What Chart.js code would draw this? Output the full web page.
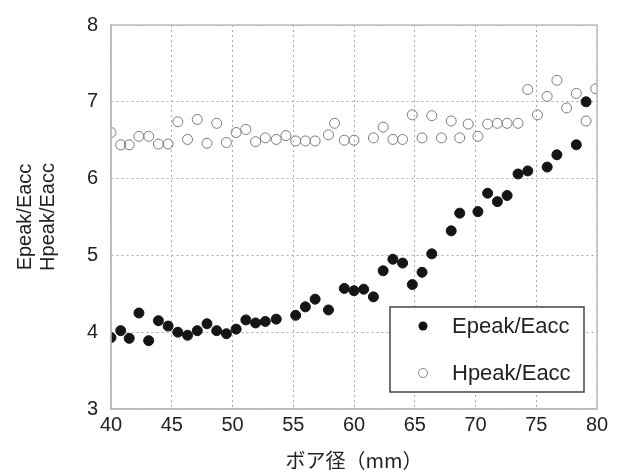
<!DOCTYPE html>
<html>
<head>
<meta charset="utf-8">
<script src="https://cdn.jsdelivr.net/npm/chart.js@4.4.0/dist/chart.umd.min.js"></script>
<style>
html,body{margin:0;padding:0;background:#fff;}
#wrap{width:621px;height:472px;}
</style>
</head>
<body>
<div id="wrap"><canvas id="c" width="621" height="472"></canvas></div>
<script>
// ---- data ----
const hpeakX = [40.0,40.8,41.5,42.3,43.1,43.9,44.7,45.5,46.3,47.1,47.9,48.7,49.5,50.3,51.1,51.9,52.7,53.6,54.4,55.2,56.0,56.8,57.9,58.4,59.2,60.0,61.6,62.4,63.2,64.0,64.8,65.6,66.4,67.2,68.0,68.7,69.4,70.2,71.0,71.8,72.6,73.5,74.3,75.1,75.9,76.7,77.5,78.3,79.1,79.9];
const hpeakY = [6.60,6.44,6.44,6.55,6.55,6.45,6.45,6.74,6.51,6.77,6.46,6.72,6.47,6.60,6.64,6.48,6.53,6.51,6.56,6.49,6.49,6.49,6.57,6.72,6.50,6.50,6.53,6.67,6.51,6.51,6.83,6.53,6.82,6.53,6.75,6.53,6.71,6.55,6.71,6.72,6.72,6.72,7.16,6.83,7.07,7.28,6.92,7.11,6.75,7.17];
const epeakX = [40.0,40.8,41.5,42.3,43.1,43.9,44.7,45.5,46.3,47.1,47.9,48.7,49.5,50.3,51.1,51.9,52.7,53.6,55.2,56.0,56.8,57.9,59.2,60.0,60.8,61.6,62.4,63.2,64.0,64.8,65.6,66.4,68.0,68.7,70.2,71.0,71.8,72.6,73.5,74.3,75.9,76.7,78.3,79.1];
const epeakY = [3.93,4.02,3.92,4.25,3.89,4.15,4.08,4.00,3.96,4.02,4.11,4.02,3.98,4.04,4.16,4.12,4.14,4.17,4.22,4.33,4.43,4.29,4.57,4.54,4.56,4.46,4.80,4.95,4.90,4.62,4.78,5.02,5.32,5.55,5.57,5.81,5.70,5.78,6.06,6.10,6.15,6.31,6.44,7.00];
const seriesNames = ['Epeak/Eacc','Hpeak/Eacc'];
const xTitle = 'ボア径（mm）';
const yTitle = ['Epeak/Eacc','Hpeak/Eacc'];
const xRange = [40, 80];
const yRange = [3, 8];

function pts(xs, ys){ return xs.map((x,i)=>({x:x, y:ys[i]})); }

const frame = {
  id:'frame',
  afterDatasetsDraw(chart){
    const {ctx, chartArea:a} = chart;
    ctx.save();
    ctx.strokeStyle = '#bbbbbb';
    ctx.lineWidth = 1.5;
    ctx.strokeRect(a.left, a.top, a.right-a.left, a.bottom-a.top);
    ctx.restore();
  }
};

const boxLegend = {
  id:'boxLegend',
  afterDraw(chart){
    const {ctx, chartArea:a} = chart;
    const x0 = a.right - 207, x1 = a.right - 13;
    const y0 = a.bottom - 102, y1 = a.bottom - 17;
    ctx.save();
    ctx.fillStyle = '#fff';
    ctx.fillRect(x0, y0, x1-x0, y1-y0);
    ctx.strokeStyle = '#444';
    ctx.lineWidth = 1.5;
    ctx.strokeRect(x0, y0, x1-x0, y1-y0);
    const rows = [y0+19, y0+66];
    chart.data.datasets.forEach((ds, i) => {
      const cy = rows[i];
      ctx.beginPath();
      ctx.arc(x0+33, cy, 4.5, 0, Math.PI*2);
      if (i === 0) { ctx.fillStyle = '#111'; ctx.fill(); }
      else { ctx.strokeStyle = '#888'; ctx.lineWidth = 1; ctx.stroke(); }
      ctx.fillStyle = '#222';
      ctx.font = '22px "Liberation Sans", Arial, sans-serif';
      ctx.textBaseline = 'middle';
      ctx.textAlign = 'left';
      ctx.fillText(ds.label, x0+62, cy+1);
    });
    ctx.restore();
  }
};

new Chart(document.getElementById('c'), {
  type:'scatter',
  data:{
    datasets:[
      {label:seriesNames[0], data:pts(epeakX, epeakY), pointRadius:5, pointHoverRadius:5,
       backgroundColor:'#151515', borderColor:'#151515', borderWidth:1},
      {label:seriesNames[1], data:pts(hpeakX, hpeakY), pointRadius:5, pointHoverRadius:5,
       backgroundColor:'rgba(0,0,0,0)', borderColor:'#7a7a7a', borderWidth:1}
    ]
  },
  options:{
    responsive:false,
    animation:false,
    devicePixelRatio:1,
    layout:{padding:{left:0, right:24, top:20, bottom:0}},
    plugins:{legend:{display:false}, tooltip:{enabled:false}},
    scales:{
      x:{
        type:'linear', min:xRange[0], max:xRange[1],
        ticks:{stepSize:5, padding:4, color:'#222', font:{family:'"Liberation Sans", Arial, sans-serif', size:20}},
        grid:{drawTicks:false, color:'#aaaaaa', lineWidth:1},
        border:{display:true, color:'#bbbbbb', width:1.5, dash:[2,3]},
        title:{display:true, text:xTitle, color:'#222', padding:{top:0,bottom:0},
               font:{family:'"Noto Sans CJK JP", sans-serif', size:20, lineHeight:1.2}},
        afterFit(s){ s.height = 63; }
      },
      y:{
        type:'linear', min:yRange[0], max:yRange[1],
        ticks:{stepSize:1, padding:13, color:'#222', font:{family:'"Liberation Sans", Arial, sans-serif', size:20}},
        grid:{drawTicks:false, color:'#aaaaaa', lineWidth:1},
        border:{display:true, color:'#bbbbbb', width:1.5, dash:[2,3]},
        title:{display:true, text:yTitle, color:'#222', padding:{top:13.5,bottom:0},
               font:{family:'"Liberation Sans", Arial, sans-serif', size:20, lineHeight:1.15}},
        afterFit(s){ s.width = 111; }
      }
    }
  },
  plugins:[frame, boxLegend]
});
</script>
</body>
</html>
